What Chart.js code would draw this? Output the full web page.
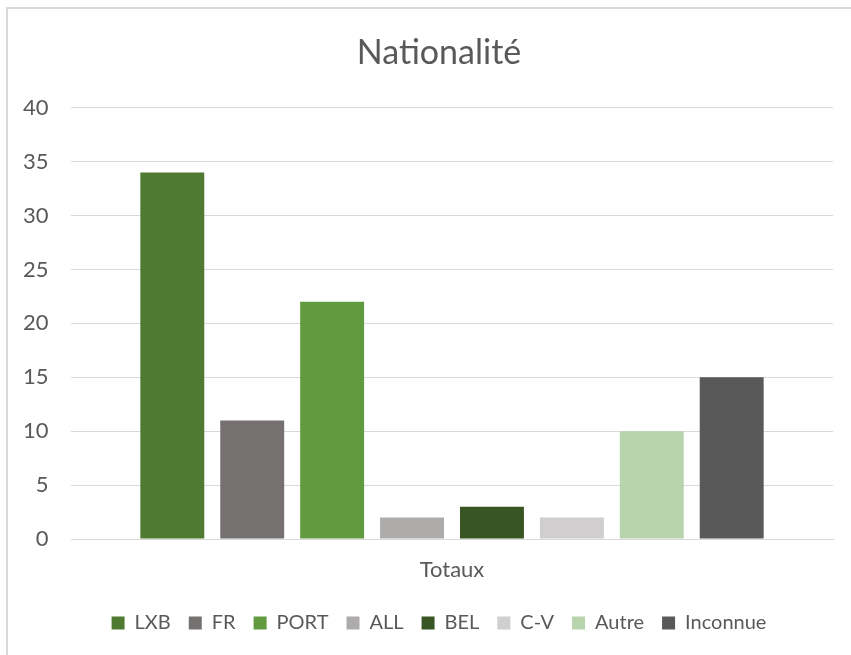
<!DOCTYPE html>
<html>
<head>
<meta charset="utf-8">
<script src="https://cdn.jsdelivr.net/npm/chart.js@4.4.0/dist/chart.umd.min.js"></script>
<style>
  html, body { margin: 0; padding: 0; background: #ffffff; }
  #wrap { position: relative; width: 851px; height: 655px; overflow: hidden; }
  #c { position: absolute; left: 0; top: 0; }
  #frame { position: absolute; left: 6px; top: 7px; width: 860px; height: 700px;
           border: 2px solid #d9d9d9; box-sizing: border-box; pointer-events: none; }
</style>
</head>
<body>
<div id="wrap">
  <canvas id="c" width="851" height="655"></canvas>
  <div id="frame"></div>
</div>
<script>
const categories = ["Totaux"];
const seriesNames = ["LXB", "FR", "PORT", "ALL", "BEL", "C-V", "Autre", "Inconnue"];
const seriesValues = [34, 11, 22, 2, 3, 2, 10, 15];
const seriesColors = ["#4e7a31", "#767171", "#629a3f", "#aeabab", "#375623", "#d0cece", "#b8d4ad", "#595959"];
const yTicks = [0, 5, 10, 15, 20, 25, 30, 35, 40];

const FONT = "Lato, 'Open Sans', sans-serif";
const TXT = "#595959";

new Chart(document.getElementById('c'), {
  type: 'bar',
  data: {
    labels: categories,
    datasets: seriesNames.map((n, i) => ({
      label: n,
      data: [seriesValues[i]],
      backgroundColor: seriesColors[i],
      borderWidth: 0,
      barPercentage: 0.8,
      categoryPercentage: 0.839
    }))
  },
  options: {
    responsive: false,
    animation: false,
    layout: { padding: { left: 45, right: 18, top: 0, bottom: 12 } },
    plugins: {
      tooltip: { enabled: false },
      title: {
        display: true,
        text: 'Nationalité',
        color: TXT,
        font: { family: FONT, size: 34, weight: 'normal' },
        padding: { top: 33, bottom: 34 }
      },
      legend: {
        position: 'bottom',
        labels: {
          color: TXT,
          font: { family: FONT, size: 20 },
          boxWidth: 13,
          boxHeight: 13,
          padding: 18
        }
      }
    },
    scales: {
      x: {
        grid: { display: false },
        border: { display: true, color: '#d9d9d9', width: 1 },
        ticks: { color: TXT, font: { family: FONT, size: 22 }, padding: 10 },
        afterFit: (s) => { s.height = 56; }
      },
      y: {
        min: 0, max: 40,
        afterBuildTicks: (s) => { s.ticks = yTicks.map(v => ({ value: v })); },
        grid: { color: '#d9d9d9', lineWidth: 1, drawTicks: false },
        border: { display: false },
        ticks: { color: TXT, font: { family: FONT, size: 22 }, mirror: true, crossAlign: 'far', padding: -48 },
        afterFit: (s) => { s.width = 26; }
      }
    }
  }
});
</script>
</body>
</html>
